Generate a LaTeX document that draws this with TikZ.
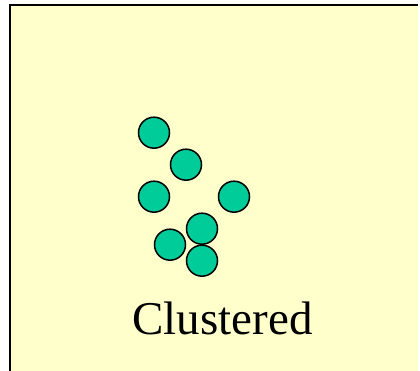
\documentclass[tikz,border=0pt]{standalone}
\usepackage{fontspec}
\setmainfont{Liberation Serif}
\definecolor{bgyellow}{HTML}{FFFFCC}
\definecolor{dotgreen}{HTML}{00CC99}
\begin{document}
\begin{tikzpicture}[x=1pt,y=-1pt,
  dot/.style={circle,draw=black,line width=1.5pt,fill=dotgreen,minimum size=31pt,inner sep=0pt},
  frame/.style={line width=2pt,draw=black}]
\useasboundingbox (0,0) rectangle (420,371);
\clip (0,0) rectangle (420,371);
\fill[bgyellow] (10,5) rectangle (418,371);
\draw[frame] (10,380) -- (10,5) -- (418,5);
\node[dot] (d1) at (154,132.7) {};
\node[dot] (d2) at (186,164.7) {};
\node[dot] (d3) at (154,196.7) {};
\node[dot] (d4) at (234,196.7) {};
\node[dot] (d5) at (202,228.7) {};
\node[dot] (d6) at (170,244.7) {};
\node[dot] (d7) at (202,260.7) {};
\node[anchor=base,inner sep=0pt,font=\fontsize{47}{50}\selectfont] (lbl) at (222.5,334) {Clustered};
\end{tikzpicture}
\end{document}
